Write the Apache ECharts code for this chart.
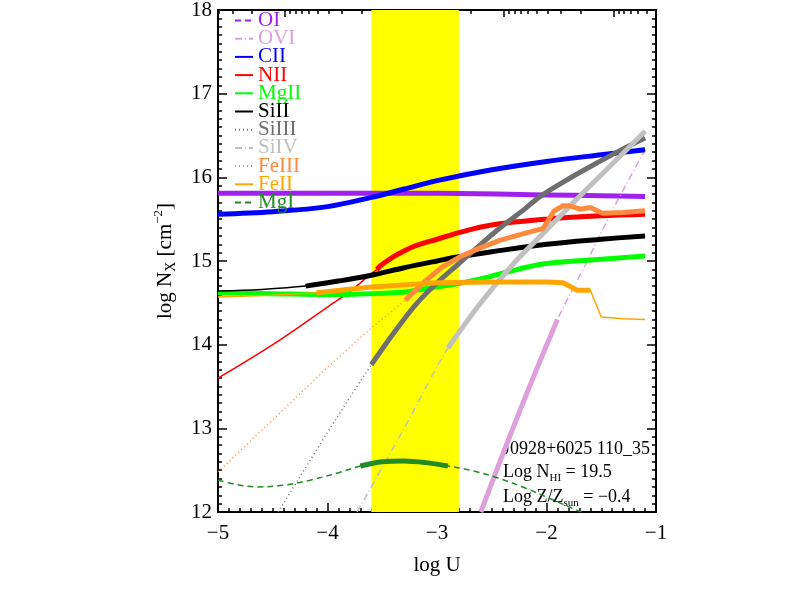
<!DOCTYPE html>
<html>
<head>
<meta charset="utf-8">
<script src="https://cdn.jsdelivr.net/npm/echarts@6/dist/echarts.min.js"></script>
<style>
  html, body { margin: 0; padding: 0; background: #fff; }
  #chart { width: 789px; height: 599px; }
</style>
</head>
<body>
<div id="chart"></div>
<script>
// yellow band (log U range)
var bandU = [-3.6, -2.8];

// column density curves, [log U, log N]
var ptsOI = [[-5, 15.81], [-4, 15.81], [-3, 15.81], [-2, 15.79], [-1.5, 15.78], [-1.1, 15.77]];
var ptsOVI = [[-2.6, 12.0], [-2.42, 12.62], [-2.24, 13.22], [-2.07, 13.77], [-1.9, 14.3], [-1.67, 14.89], [-1.4, 15.6], [-1.1, 16.33]];
var ptsCII = [[-5, 15.56], [-4.5, 15.59], [-4, 15.65], [-3.6, 15.76], [-3.3, 15.86], [-3, 15.96], [-2.5, 16.09], [-2, 16.19], [-1.5, 16.27], [-1.1, 16.33]];
var ptsNII = [[-5, 13.6], [-4.5, 14.0], [-4, 14.45], [-3.8, 14.63], [-3.6, 14.85], [-3.55, 14.9], [-3.5, 14.96], [-3.4, 15.05], [-3.3, 15.12], [-3.2, 15.18], [-3, 15.26], [-2.8, 15.34], [-2.5, 15.43], [-2, 15.5], [-1.5, 15.54], [-1.1, 15.56]];
var ptsMgII = [[-5, 14.62], [-4.5, 14.61], [-4, 14.6], [-3.6, 14.61], [-3.3, 14.63], [-3, 14.69], [-2.8, 14.73], [-2.5, 14.82], [-2.2, 14.92], [-2, 14.97], [-1.5, 15.02], [-1.1, 15.06]];
var ptsSiII = [[-5, 14.64], [-4.6, 14.66], [-4.2, 14.7], [-3.9, 14.76], [-3.6, 14.83], [-3.3, 14.92], [-3, 15.0], [-2.8, 15.05], [-2.5, 15.11], [-2, 15.2], [-1.5, 15.26], [-1.1, 15.3]];
var ptsSiIII = [[-4.45, 12.0], [-4.0, 12.95], [-3.6, 13.76], [-3.4, 14.13], [-3.2, 14.47], [-3.0, 14.74], [-2.8, 14.97], [-2.6, 15.2], [-2.42, 15.4], [-2.2, 15.62], [-2.06, 15.77], [-1.8, 15.98], [-1.5, 16.2], [-1.3, 16.34], [-1.1, 16.47]];
var ptsSiIV = [[-3.73, 12.0], [-3.3, 13.0], [-2.9, 13.96], [-2.6, 14.5], [-2.3, 14.97], [-2.0, 15.37], [-1.7, 15.77], [-1.4, 16.16], [-1.1, 16.55]];
var ptsFeIII = [[-5, 12.48], [-4.5, 13.1], [-4, 13.73], [-3.6, 14.2], [-3.29, 14.53], [-3.1, 14.77], [-2.95, 14.93], [-2.79, 15.05], [-2.6, 15.16], [-2.42, 15.25], [-2.2, 15.33], [-2.03, 15.39], [-1.93, 15.6], [-1.85, 15.66], [-1.79, 15.66], [-1.69, 15.62], [-1.6, 15.64], [-1.49, 15.57], [-1.3, 15.58], [-1.1, 15.6]];
var ptsFeII = [[-5, 14.57], [-4.5, 14.59], [-4.1, 14.62], [-3.6, 14.69], [-3, 14.74], [-2.5, 14.75], [-2, 14.75], [-1.85, 14.74], [-1.79, 14.7], [-1.72, 14.65], [-1.6, 14.65], [-1.5, 14.33], [-1.3, 14.31], [-1.1, 14.3]];
var ptsMgI = [[-5, 12.38], [-4.8, 12.32], [-4.65, 12.3], [-4.4, 12.32], [-4.16, 12.38], [-3.9, 12.47], [-3.7, 12.55], [-3.5, 12.6], [-3.3, 12.61], [-3.1, 12.59], [-2.9, 12.55], [-2.7, 12.5], [-2.45, 12.41], [-2.2, 12.29], [-1.95, 12.15], [-1.72, 12.02], [-1.68, 12.0]];

// top axis (density) major ticks
var topMajor = [-4.39, -3.39, -2.39, -1.39];
var topLabels = ['\u22121', '\u22122', '\u22123', '\u22124'];

var species = [
    { name: 'OI',    color: '#a020f0', dash: [6, 4],       pts: ptsOI,    thick: [-5, -1.1],    smooth: true },
    { name: 'OVI',   color: '#dda0dd', dash: [7, 3, 1, 3], pts: ptsOVI,   thick: [-2.6, -1.9],  smooth: true },
    { name: 'CII',   color: '#0000ff', dash: 'solid',      pts: ptsCII,   thick: [-5, -1.1],    smooth: true },
    { name: 'NII',   color: '#ff0000', dash: 'solid',      pts: ptsNII,   thick: [-3.55, -1.1], smooth: true },
    { name: 'MgII',  color: '#00ff00', dash: 'solid',      pts: ptsMgII,  thick: [-5, -1.1],    smooth: true },
    { name: 'SiII',  color: '#000000', dash: 'solid',      pts: ptsSiII,  thick: [-4.2, -1.1],  smooth: true },
    { name: 'SiIII', color: '#6e6e6e', dash: [1, 3],       pts: ptsSiIII, thick: [-3.6, -1.1],  smooth: true },
    { name: 'SiIV',  color: '#c0c0c0', dash: [7, 3, 1, 3], pts: ptsSiIV,  thick: [-2.9, -1.1],  smooth: true },
    { name: 'FeIII', color: '#ff8a3d', dash: [1, 3],       pts: ptsFeIII, thick: [-3.29, -1.1], smooth: false },
    { name: 'FeII',  color: '#ffa500', dash: 'solid',      pts: ptsFeII,  thick: [-4.1, -1.6],  smooth: false },
    { name: 'MgI',   color: '#228b22', dash: [6, 4],       pts: ptsMgI,   thick: [-3.7, -2.9],  smooth: true }
];

// log-spaced minor ticks on the top axis
var topMinor = [];
[-5.39].concat(topMajor).forEach(function (m) {
    for (var k = 2; k <= 9; k++) {
        var v = m + 1 - Math.log10(k);
        if (v > -5 && v < -1) topMinor.push(+v.toFixed(4));
    }
});

var FONT = 'Liberation Serif';
function minus(v) { return String(v).replace('-', '\u2212'); }

var series = [{
    type: 'line', data: [], silent: true,
    markArea: {
        silent: true,
        itemStyle: { color: '#ffff00', opacity: 1 },
        data: [[{ xAxis: bandU[0] }, { xAxis: bandU[1] }]]
    }
}];

species.forEach(function (s) {
    // thin line (model everywhere)
    series.push({
        name: s.name, type: 'line', data: s.pts, symbol: 'none', silent: true,
        smooth: s.smooth ? 0.35 : false, z: 3,
        itemStyle: { color: s.color },
        lineStyle: { color: s.color, width: 1.5, type: s.dash }
    });
    // thick line (constrained range)
    series.push({
        name: s.name, type: 'line', symbol: 'none', silent: true,
        data: s.pts.filter(function (p) { return p[0] >= s.thick[0] - 1e-9 && p[0] <= s.thick[1] + 1e-9; }),
        smooth: s.smooth ? 0.35 : false, z: 3,
        itemStyle: { color: s.color },
        lineStyle: { color: s.color, width: 5, type: 'solid', cap: 'butt' }
    });
});

var chart = echarts.init(document.getElementById('chart'));
chart.setOption({
    animation: false,
    backgroundColor: '#fff',
    grid: { left: 218, right: 133, top: 10, bottom: 87, containLabel: false, outerBoundsMode: 'none' },
    legend: {
        orient: 'vertical', left: 234, top: 10, padding: 0,
        itemWidth: 18, itemHeight: 8, itemGap: -2.8,
        selectedMode: false,
        itemStyle: { opacity: 0 },
        textStyle: { fontFamily: FONT, fontSize: 21, padding: [0, 0, 0, 0] },
        data: species.map(function (s) { return { name: s.name, textStyle: { color: s.color } }; })
    },
    xAxis: [{
        type: 'value', min: -5, max: -1, interval: 1, position: 'bottom',
        name: 'log U', nameLocation: 'middle', nameGap: 43,
        nameTextStyle: { fontFamily: FONT, fontSize: 21, color: '#000' },
        axisLine: { lineStyle: { color: '#000', width: 2 } },
        axisTick: { inside: true, length: 9, lineStyle: { color: '#000', width: 1.5 } },
        minorTick: { show: true, splitNumber: 10, length: 4, lineStyle: { color: '#000', width: 1.5 } },
        splitLine: { show: false },
        axisLabel: { fontFamily: FONT, fontSize: 21, color: '#000', margin: 11, formatter: minus }
    }, {
        type: 'value', min: -5, max: -1, position: 'top',
        axisLine: { lineStyle: { color: '#000', width: 2 } },
        axisTick: { inside: true, length: 7, customValues: topMajor, lineStyle: { color: '#000', width: 1.5 } },
        splitLine: { show: false },
        axisLabel: {
            show: true, customValues: topMajor, margin: 8, color: '#000',
            formatter: function (v) {
                var i = topMajor.indexOf(v);
                return '{a|10}{b|' + (i >= 0 ? topLabels[i] : '') + '}';
            },
            rich: { a: { fontFamily: FONT, fontSize: 21 }, b: { fontFamily: FONT, fontSize: 13, verticalAlign: 'top' } }
        }
    }, {
        type: 'value', min: -5, max: -1, position: 'top',
        axisLine: { show: false },
        axisTick: { inside: true, length: 4, customValues: topMinor, lineStyle: { color: '#000', width: 1.5 } },
        splitLine: { show: false },
        axisLabel: { show: false }
    }],
    yAxis: [{
        type: 'value', min: 12, max: 18, interval: 1, position: 'left',
        name: 'log N{sub|X} [cm{sup|\u22122}]', nameLocation: 'middle', nameGap: 40,
        nameTextStyle: {
            fontFamily: FONT, fontSize: 21, color: '#000', lineHeight: 26,
            rich: {
                sub: { fontFamily: FONT, fontSize: 14, verticalAlign: 'bottom', lineHeight: 14 },
                sup: { fontFamily: FONT, fontSize: 13, verticalAlign: 'top', lineHeight: 13 }
            }
        },
        axisLine: { lineStyle: { color: '#000', width: 2 } },
        axisTick: { inside: true, length: 9, lineStyle: { color: '#000', width: 1.5 } },
        minorTick: { show: true, splitNumber: 10, length: 4, lineStyle: { color: '#000', width: 1.5 } },
        splitLine: { show: false },
        axisLabel: { fontFamily: FONT, fontSize: 21, color: '#000', margin: 6 }
    }, {
        type: 'value', min: 12, max: 18, interval: 1, position: 'right',
        axisLine: { lineStyle: { color: '#000', width: 2 } },
        axisTick: { inside: true, length: 9, lineStyle: { color: '#000', width: 1.5 } },
        minorTick: { show: true, splitNumber: 10, length: 4, lineStyle: { color: '#000', width: 1.5 } },
        splitLine: { show: false },
        axisLabel: { show: false }
    }],
    graphic: [{
        type: 'group', left: 503, top: 440, silent: true,
        children: [{
            type: 'text', x: 0, y: 0,
            style: { text: 'J0928+6025 110_35', fontFamily: FONT, fontSize: 18, fill: '#000' }
        }, {
            type: 'text', x: 0, y: 20,
            style: {
                text: 'Log N{s|HI} = 19.5', fontFamily: FONT, fontSize: 18, fill: '#000', lineHeight: 24,
                rich: { s: { fontFamily: FONT, fontSize: 11, verticalAlign: 'bottom', lineHeight: 11 } }
            }
        }, {
            type: 'text', x: 0, y: 45,
            style: {
                text: 'Log Z/Z{s|sun} = \u22120.4', fontFamily: FONT, fontSize: 18, fill: '#000', lineHeight: 24,
                rich: { s: { fontFamily: FONT, fontSize: 11, verticalAlign: 'bottom', lineHeight: 11 } }
            }
        }]
    }],
    series: series
});
</script>
</body>
</html>
